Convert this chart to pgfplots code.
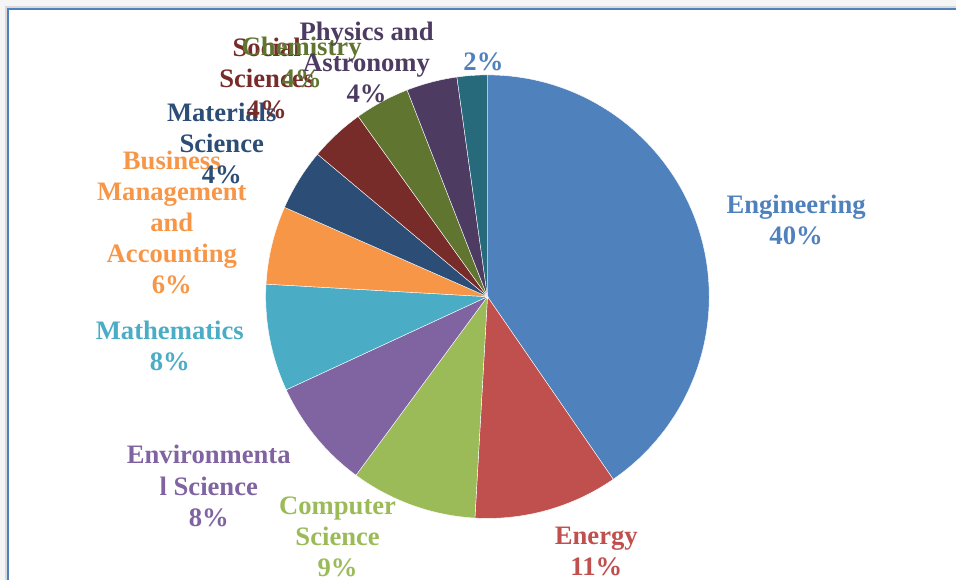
\documentclass[border=0pt]{standalone}
\usepackage{pgfplots}
\usepackage{pgfplotstable}
\usepackage{fontspec}
\setmainfont{Liberation Serif}
\pgfplotsset{compat=1.18}
\definecolor{cEng}{HTML}{4F81BD}
\definecolor{cEne}{HTML}{C0504D}
\definecolor{cCS}{HTML}{9BBB59}
\definecolor{cEnv}{HTML}{8064A2}
\definecolor{cMat}{HTML}{4BACC6}
\definecolor{cBus}{HTML}{F79646}
\definecolor{cMS}{HTML}{2C4D75}
\definecolor{cSoc}{HTML}{772C2A}
\definecolor{cChe}{HTML}{5F7530}
\definecolor{cPhy}{HTML}{4D3B62}
\definecolor{cOth}{HTML}{276A7C}
\pgfplotstableread{
label value color
Engineering 40.4 cEng
Energy 10.5 cEne
ComputerScience 9.2 cCS
EnvironmentalScience 8.0 cEnv
Mathematics 7.8 cMat
Business 5.7 cBus
MaterialsScience 4.5 cMS
SocialSciences 4.0 cSoc
Chemistry 4.0 cChe
Physics 3.7 cPhy
Other 2.2 cOth
}\piedata
\begin{document}
\begin{tikzpicture}
\begin{axis}[
  width=717.75pt, height=435.75pt, scale only axis,
  xmin=0, xmax=957, ymin=0, ymax=581,
  hide axis, clip=false,
]
% frame background
\fill[black!4] (axis cs:0,572) rectangle (axis cs:957,581);
\fill[black!4] (axis cs:0,0) rectangle (axis cs:8,581);
\draw[black!15, line width=1.2pt] (axis cs:6,0) -- (axis cs:6,574) -- (axis cs:957,574);
\draw[cEng, line width=1.6pt] (axis cs:8,0) -- (axis cs:8,572) -- (axis cs:957,572);
% pie
\pgfplotstablegetrowsof{\piedata}
\pgfmathtruncatemacro\nrows{\pgfplotsretval-1}
\gdef\cum{0}
\pgfplotsforeachungrouped \i in {0,...,\nrows}{%
  \pgfplotstablegetelem{\i}{value}\of\piedata \let\val\pgfplotsretval
  \pgfplotstablegetelem{\i}{color}\of\piedata \let\col\pgfplotsretval
  \pgfmathsetmacro\a{90-3.6*\cum}%
  \pgfmathsetmacro\b{90-3.6*(\cum+\val)}%
  \pgfmathsetmacro\px{488+222*cos(\a)}%
  \pgfmathsetmacro\py{284+222*sin(\a)}%
  \edef\temp{\noexpand\fill[\col, draw=white, line width=0.3pt] (axis cs:488,284) -- (axis cs:\px,\py) arc[start angle=\a, end angle=\b, radius=166.5pt] -- cycle;}%
  \temp
  \pgfmathsetmacro\newcum{\cum+\val}%
  \xdef\cum{\newcum}%
}
% labels
\tikzset{lbl/.style={font=\fontsize{20}{23.3}\selectfont\bfseries, align=center, inner sep=0pt}}
\node[lbl, text=cEng] at (axis cs:797,361) {Engineering\\40\%};
\node[lbl, text=cEne] at (axis cs:597,28.5) {Energy\\11\%};
\node[lbl, text=cCS] at (axis cs:338,44) {Computer\\Science\\9\%};
\node[lbl, text=cEnv] at (axis cs:209,94.5) {Environmenta\\l Science\\8\%};
\node[lbl, text=cMat] at (axis cs:170,234.5) {Mathematics\\8\%};
\node[lbl, text=cBus] at (axis cs:172,358) {Business\\Management\\and\\Accounting\\6\%};
\node[lbl, text=cMS] at (axis cs:222,437.5) {Materials\\Science\\4\%};
\node[lbl, text=cSoc] at (axis cs:267,502.5) {Social\\Sciences\\4\%};
\node[lbl, text=cChe] at (axis cs:302,518.5) {Chemistry\\4\%};
\node[lbl, text=cPhy] at (axis cs:367,518.5) {Physics and\\Astronomy\\4\%};
\node[lbl, text=cEng] at (axis cs:484,519) {2\%};
\end{axis}
\end{tikzpicture}
\end{document}
